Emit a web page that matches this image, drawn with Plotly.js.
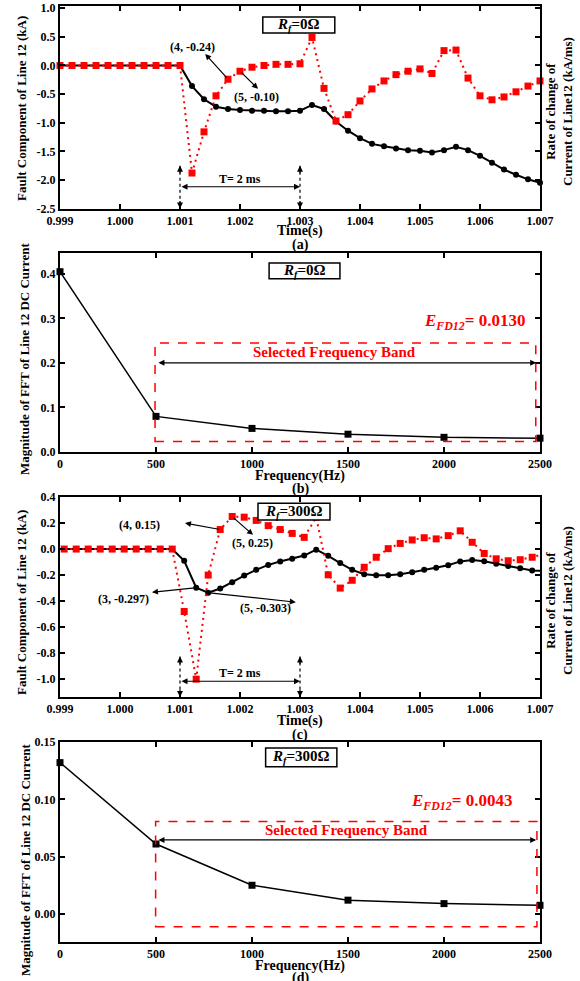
<!DOCTYPE html>
<html><head><meta charset="utf-8">
<script src="https://cdn.plot.ly/plotly-3.0.1.min.js"></script>
<style>html,body{margin:0;padding:0;background:#fff}</style>
</head><body><div id="chart" style="width:580px;height:981px"></div>
<script>
// ---- panel (a): Rf = 0 ohm, time domain ----
const timeA = [0.9990,0.9992,0.9994,0.9996,0.9998,1.0000,1.0002,1.0004,1.0006,1.0008,1.0010,1.0012,1.0014,1.0016,1.0018,1.0020,1.0022,1.0024,1.0026,1.0028,1.0030,1.0032,1.0034,1.0036,1.0038,1.0040,1.0042,1.0044,1.0046,1.0048,1.0050,1.0052,1.0054,1.0056,1.0058,1.0060,1.0062,1.0064,1.0066,1.0068,1.0070];
const faultA = [0,0,0,0,0,0,0,0,0,0,0,-0.36,-0.59,-0.72,-0.76,-0.78,-0.79,-0.79,-0.80,-0.80,-0.79,-0.69,-0.76,-0.98,-1.14,-1.27,-1.37,-1.41,-1.45,-1.48,-1.49,-1.52,-1.48,-1.42,-1.48,-1.58,-1.70,-1.82,-1.91,-1.99,-2.05];
const rateA = [0,0,0,0,0,0,0,0,0,0,0,-1.88,-1.16,-0.53,-0.24,-0.10,-0.03,0.00,0.02,0.02,0.03,0.49,-0.40,-0.97,-0.86,-0.62,-0.41,-0.27,-0.16,-0.10,-0.06,-0.14,0.26,0.27,-0.22,-0.53,-0.60,-0.55,-0.46,-0.36,-0.27];

// ---- panel (c): Rf = 300 ohm, time domain ----
const timeC = [0.99887,0.99907,0.99927,0.99947,0.99967,0.99987,1.00007,1.00027,1.00047,1.00067,1.00087,1.00107,1.00127,1.00147,1.00167,1.00187,1.00207,1.00227,1.00247,1.00267,1.00287,1.00307,1.00327,1.00347,1.00367,1.00387,1.00407,1.00427,1.00447,1.00467,1.00487,1.00507,1.00527,1.00547,1.00567,1.00587,1.00607,1.00627,1.00647,1.00667,1.00687,1.00707];
const faultC = [0,0,0,0,0,0,0,0,0,0,0,-0.09,-0.297,-0.335,-0.303,-0.255,-0.204,-0.16,-0.122,-0.095,-0.075,-0.05,-0.005,-0.052,-0.108,-0.16,-0.193,-0.201,-0.201,-0.193,-0.178,-0.16,-0.144,-0.124,-0.095,-0.085,-0.093,-0.113,-0.131,-0.147,-0.165,-0.168];
const rateC = [0,0,0,0,0,0,0,0,0,0,0,-0.48,-1.00,-0.20,0.15,0.25,0.245,0.22,0.18,0.15,0.12,0.09,0.245,-0.198,-0.30,-0.24,-0.14,-0.063,0.003,0.043,0.07,0.087,0.078,0.103,0.14,0.052,-0.034,-0.075,-0.09,-0.082,-0.063,-0.039];

// ---- panels (b), (d): FFT magnitude ----
const freqHz = [0,500,1000,1500,2000,2500];
const fftB = [0.405,0.080,0.053,0.040,0.033,0.031];
const fftD = [0.132,0.061,0.025,0.012,0.009,0.0075];

// ---- tick labels ----
const timeTicks = [0.999,1.000,1.001,1.002,1.003,1.004,1.005,1.006,1.007];
const timeTickText = ['0.999','1.000','1.001','1.002','1.003','1.004','1.005','1.006','1.007'];
const yTicksA = [1,0.5,0,-0.5,-1,-1.5,-2,-2.5];
const yTickTextA = ['1.0','0.5','0.0','-0.5','-1.0','-1.5','-2.0','-2.5'];
const yTicksC = [0.4,0.2,0,-0.2,-0.4,-0.6,-0.8,-1.0];
const yTickTextC = ['0.4','0.2','0.0','-0.2','-0.4','-0.6','-0.8','-1.0'];

const RED = '#ff0000';
const FONT = 'Liberation Serif, Times New Roman, serif';
const px = x => (x - 60) / 480;
const py = y => (942 - y) / 936;

const axBase = {showline:true, linewidth:2, linecolor:'#000', mirror:'ticks', ticks:'inside',
  ticklen:5, tickwidth:2, tickcolor:'#000', showgrid:false, zeroline:false,
  tickfont:{family:FONT, size:12, color:'#000', weight:'bold'}};
const overlayAx = {showline:false, ticks:'', showticklabels:false, showgrid:false, zeroline:false};

const blackLine = (x,y,xa,ya) => ({x, y, xaxis:xa, yaxis:ya, type:'scatter', mode:'lines+markers', cliponaxis:false,
  line:{color:'#000', width:2}, marker:{symbol:'circle', size:6, color:'#000'}, hoverinfo:'skip'});
const redLine = (x,y,xa,ya) => ({x, y, xaxis:xa, yaxis:ya, type:'scatter', mode:'lines+markers', cliponaxis:false,
  line:{color:RED, width:2, dash:'2px,4px'}, marker:{symbol:'square', size:7, color:RED}, hoverinfo:'skip'});
const fftLine = (y,xa,ya) => ({x:freqHz, y, xaxis:xa, yaxis:ya, type:'scatter', mode:'lines+markers', cliponaxis:false,
  line:{color:'#000', width:1.5}, marker:{symbol:'square', size:7, color:'#000'}, hoverinfo:'skip'});

const data = [
  blackLine(timeA, faultA, 'x', 'y'),
  redLine(timeA, rateA, 'x', 'y5'),
  fftLine(fftB, 'x2', 'y2'),
  blackLine(timeC, faultC, 'x3', 'y3'),
  redLine(timeC, rateC, 'x3', 'y6'),
  fftLine(fftD, 'x4', 'y4')
];

const ann = [];
const shapes = [];
function txt(x, y, text, xref, yref, size, color, extra) {
  ann.push(Object.assign({x, y, xref, yref, text, showarrow:false, xanchor:'center', yanchor:'middle',
    font:{family:FONT, size:size, color:color||'#000', weight:'bold'}}, extra||{}));
}
function arrow(xh, yh, xt, yt, xref, yref, both) {
  ann.push({x:xh, y:yh, ax:xt, ay:yt, xref, yref, axref:xref, ayref:yref, text:'', showarrow:true,
    arrowhead:2, arrowsize:1, arrowwidth:1.2, arrowcolor:'#000', arrowside: both ? 'end+start' : 'end'});
}
function headPx(x, y, dx, dy, xref, yref) {
  ann.push({x, y, xref, yref, ax:dx, ay:dy, text:'', showarrow:true, arrowhead:2, arrowsize:1, arrowwidth:1.2, arrowcolor:'#000'});
}
function rfBox(x0, x1, y0, y1, xref, yref, label) {
  shapes.push({type:'rect', xref, yref, x0, x1, y0, y1, line:{color:'#000', width:1.5}, fillcolor:'#fff', layer:'above'});
  txt((x0+x1)/2, (y0+y1)/2, '<i>R</i><sub><i>f</i></sub>=' + label, xref, yref, 15);
}
function tBracket(xref, yref, yTop, yBot, yMid, yText) {
  [1.001, 1.003].forEach(xv => {
    shapes.push({type:'line', xref, yref, x0:xv, x1:xv, y0:yTop, y1:yBot, line:{color:'#000', width:1.2, dash:'dot'}});
    headPx(xv, yTop, 0, 9, xref, yref);
    headPx(xv, yBot, 0, -9, xref, yref);
  });
  arrow(1.003, yMid, 1.001, yMid, xref, yref, true);
  txt(1.002, yText, 'T= 2 ms', xref, yref, 12);
}
function band(xref, yref, x0, x1, y0, y1, yArrow, yText, xText, eText, xE, yE) {
  shapes.push({type:'rect', xref, yref, x0, x1, y0, y1, line:{color:RED, width:1.5, dash:'dash'}});
  arrow(2480, yArrow, 505, yArrow, xref, yref, true);
  txt(xText, yText, 'Selected Frequency Band', xref, yref, 15, RED);
  txt(xE, yE, '<i>E</i><sub><i>FD12</i></sub>= ' + eText, xref, yref, 17, RED);
}

// panel (a)
rfBox(1.00238, 1.00358, 0.569, 0.848, 'x', 'y', '0Ω');
txt(1.0012, 0.325, '(4, -0.24)', 'x', 'y', 12);
arrow(1.00142, 0.203, timeA[14], rateA[14], 'x', 'y');
txt(1.00228, -0.548, '(5, -0.10)', 'x', 'y', 12);
arrow(1.0023, -0.408, timeA[15], rateA[15], 'x', 'y');
tBracket('x', 'y', -1.752, -2.5, -2.12, -1.99);

// panel (b)
rfBox(1089, 1458, 0.389, 0.4247, 'x2', 'y2', '0Ω');
band('x2', 'y2', 495, 2478, 0.0238, 0.245, 0.2004, 0.225, 1432, '0.0130', 2160, 0.292);

// panel (c)
rfBox(1.0023, 1.0035, 0.223, 0.352, 'x3', 'y3', '300Ω');
txt(1.000333, 0.185, '(4, 0.15)', 'x3', 'y3', 12);
arrow(1.001083, 0.20, timeC[14], rateC[14], 'x3', 'y3');
txt(1.0022, 0.048, '(5, 0.25)', 'x3', 'y3', 12);
arrow(1.002217, 0.109, timeC[15], rateC[15], 'x3', 'y3');
txt(1.00005, -0.385, '(3, -0.297)', 'x3', 'y3', 12);
arrow(1.000533, -0.332, timeC[12], faultC[12], 'x3', 'y3');
txt(1.002417, -0.454, '(5, -0.303)', 'x3', 'y3', 12);
arrow(1.00293, -0.408, timeC[13], faultC[13], 'x3', 'y3');
tBracket('x3', 'y3', -0.826, -1.137, -1.016, -0.955);

// panel (d)
rfBox(1071, 1442, 0.1284, 0.1448, 'x4', 'y4', '300Ω');
band('x4', 'y4', 498, 2484, -0.0111, 0.0807, 0.0646, 0.0728, 1492, '0.0043', 2089, 0.0977);

// axis titles & panel labels
const yTitleA = 'Fault Component of Line 12 (kA)';
const yTitleB = 'Magnitude of FFT of Line 12 DC Current';
const rTitle = 'Rate of change of<br>Current of Line12 (kA/ms)';
txt(px(21), py(109), yTitleA, 'paper', 'paper', 13, '#000', {textangle:-90});
txt(px(24), py(359), yTitleB, 'paper', 'paper', 13, '#000', {textangle:-90});
txt(px(21), py(603), yTitleA, 'paper', 'paper', 13, '#000', {textangle:-90});
txt(px(25), py(860), yTitleB, 'paper', 'paper', 13, '#000', {textangle:-90});
txt(px(559), py(112), rTitle, 'paper', 'paper', 13, '#000', {textangle:-90});
txt(px(559), py(601), rTitle, 'paper', 'paper', 13, '#000', {textangle:-90});
const lab = {borderpad:0};
txt(0.5, py(231), 'Time(s)', 'paper', 'paper', 14, '#000', lab);
txt(0.5, py(245), '(a)', 'paper', 'paper', 14, '#000', lab);
txt(0.5, py(476), 'Frequency(Hz)', 'paper', 'paper', 14, '#000', lab);
txt(0.5, py(489), '(b)', 'paper', 'paper', 14, '#000', lab);
txt(0.5, py(721), 'Time(s)', 'paper', 'paper', 14, '#000', lab);
txt(0.5, py(735), '(c)', 'paper', 'paper', 14, '#000', lab);
txt(0.5, py(966), 'Frequency(Hz)', 'paper', 'paper', 14, '#000', lab);
txt(0.5, py(978), '(d)', 'paper', 'paper', 14, '#000', lab);

const layout = {
  width:580, height:981, margin:{l:60, r:40, t:6, b:39},
  paper_bgcolor:'#fff', plot_bgcolor:'#fff', showlegend:false,
  font:{family:FONT, size:12, color:'#000'},
  xaxis: Object.assign({}, axBase, {domain:[0,1], anchor:'y', range:[0.999,1.007], tickvals:timeTicks, ticktext:timeTickText}),
  yaxis: Object.assign({}, axBase, {domain:[py(208.5), 1], anchor:'x', range:[-2.5,1.04], tickvals:yTicksA, ticktext:yTickTextA}),
  yaxis5: Object.assign({}, overlayAx, {overlaying:'y', side:'right', anchor:'x', range:[-2.5,1.04]}),
  xaxis2: Object.assign({}, axBase, {domain:[0,1], anchor:'y2', range:[0,2500], tick0:0, dtick:500}),
  yaxis2: Object.assign({}, axBase, {domain:[py(452), py(253)], anchor:'x2', range:[0,0.447], tick0:0, dtick:0.1, tickformat:'.1f'}),
  xaxis3: Object.assign({}, axBase, {domain:[0,1], anchor:'y3', range:[0.999,1.007], tickvals:timeTicks, ticktext:timeTickText}),
  yaxis3: Object.assign({}, axBase, {domain:[py(697), py(497)], anchor:'x3', range:[-1.137,0.4], tickvals:yTicksC, ticktext:yTickTextC}),
  yaxis6: Object.assign({}, overlayAx, {overlaying:'y3', side:'right', anchor:'x3', range:[-1.137,0.4]}),
  xaxis4: Object.assign({}, axBase, {domain:[0,1], anchor:'y4', range:[0,2500], tick0:0, dtick:500}),
  yaxis4: Object.assign({}, axBase, {domain:[0, py(742)], anchor:'x4', range:[-0.0245,0.15], tick0:0, dtick:0.05, tickformat:'.2f'}),
  annotations: ann,
  shapes: shapes
};
Plotly.newPlot('chart', data, layout, {displayModeBar:false, staticPlot:true});
</script>
</body></html>
